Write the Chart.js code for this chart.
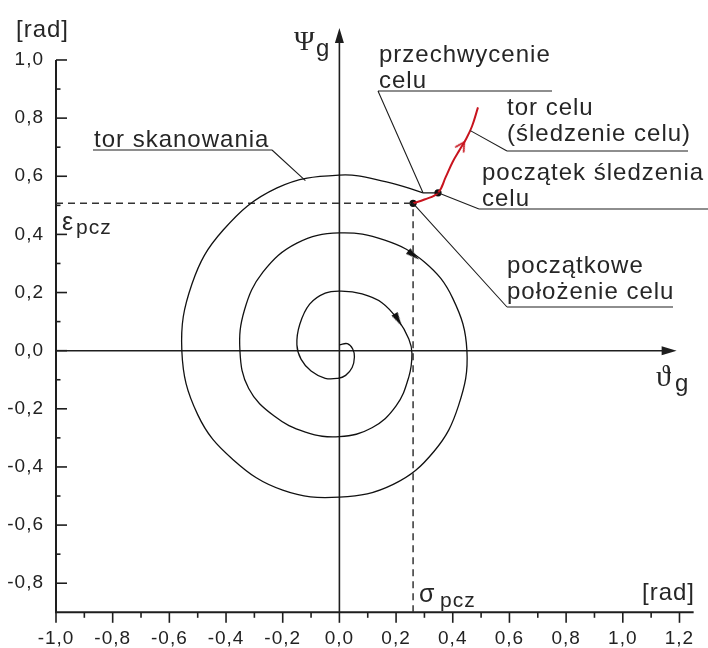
<!DOCTYPE html>
<html>
<head>
<meta charset="utf-8">
<script src="https://cdn.jsdelivr.net/npm/chart.js@4.4.1/dist/chart.umd.min.js"></script>
<style>
  html, body { margin: 0; padding: 0; background: #fff; }
  canvas { display: block; }
</style>
</head>
<body>
<canvas id="chart" width="708" height="648"></canvas>
<script>
// axis ranges (rad)
const xRange = [-1.0, 1.25];
const yRange = [-0.9, 1.12];
const frameTop = 1.0;
const axisTips = { x: 1.19, y: 1.11 };

// scanning spiral, clockwise from the centre
const scanPath = [
  [0.000, 0.020], [0.028, 0.024], [0.047, 0.006], [0.053, -0.022],
  [0.045, -0.058], [0.022, -0.085], [-0.005, -0.095], [-0.050, -0.095],
  [-0.100, -0.070], [-0.135, -0.030], [-0.150, 0.020], [-0.140, 0.090],
  [-0.105, 0.160], [-0.050, 0.198], [0.007, 0.205], [0.080, 0.195],
  [0.150, 0.165], [0.207, 0.106], [0.245, 0.040], [0.256, -0.010],
  [0.245, -0.090], [0.200, -0.190], [0.115, -0.265], [0.000, -0.296],
  [-0.120, -0.280], [-0.230, -0.225], [-0.320, -0.130], [-0.351, 0.000],
  [-0.335, 0.140], [-0.270, 0.270], [-0.150, 0.370], [0.000, 0.405],
  [0.160, 0.380], [0.300, 0.305], [0.400, 0.180], [0.450, 0.000],
  [0.420, -0.190], [0.335, -0.345], [0.190, -0.460], [0.000, -0.504],
  [-0.200, -0.480], [-0.375, -0.375], [-0.500, -0.220], [-0.556, 0.000],
  [-0.520, 0.230], [-0.410, 0.415], [-0.220, 0.560], [0.000, 0.604],
  [0.166, 0.581], [0.295, 0.543]
];
const captureLink = [[0.295, 0.543], [0.348, 0.543]];

// target track (red)
const targetPath = [
  [0.260, 0.507], [0.300, 0.520], [0.348, 0.543], [0.375, 0.597],
  [0.400, 0.650], [0.425, 0.692], [0.448, 0.730], [0.468, 0.772],
  [0.489, 0.837]
];

// initial target position
const sigmaPcz = 0.26;
const epsPcz = 0.507;
const keyPoints = [[sigmaPcz, epsPcz], [0.348, 0.543]];

// direction arrows (degrees, clockwise from up)
const scanArrows = [[0.207, 0.106], [0.262, 0.328]];
const scanArrowAngles = [150, 128];
const targetArrows = [[0.432, 0.704]];
const targetArrowAngles = [32];

const ink = '#1e1e1e';
const red = '#c8141e';
const sans = '"Liberation Sans", Arial, sans-serif';
const serif = '"Liberation Serif", "Times New Roman", serif';

function toXY(list) {
  return list.map(p => ({ x: p[0], y: p[1] }));
}

function arrowImage(len, width, color, open) {
  const c = document.createElement('canvas');
  c.width = Math.ceil(width) + 4;
  c.height = Math.ceil(len) * 2 + 4;
  const g = c.getContext('2d');
  const cx = c.width / 2;
  const top = c.height / 2 - len / 2;
  g.beginPath();
  g.moveTo(cx - width / 2, top + len);
  g.lineTo(cx, top);
  g.lineTo(cx + width / 2, top + len);
  if (open) {
    g.strokeStyle = color;
    g.lineWidth = 1.6;
    g.stroke();
  } else {
    g.closePath();
    g.fillStyle = color;
    g.fill();
  }
  return c;
}

function tickLabel(value) {
  const v = Math.round(value * 10);
  if (v % 2 !== 0) return '';
  return (v / 10).toFixed(1).replace('.', ',');
}

// leader notes: text in pixels, leader end on a data point
const notes = [
  { lines: ['tor skanowania'], x: 94, y: 147, rule: [93, 272, 150], from: [272, 150], to: [-0.12, 0.585] },
  { lines: ['przechwycenie', 'celu'], x: 379, y: 62, rule: [378, 552, 91], from: [378, 91], to: [0.295, 0.543] },
  { lines: ['tor celu', '(śledzenie celu)'], x: 507, y: 115, rule: [507, 688, 151], from: [507, 151], to: [0.462, 0.757] },
  { lines: ['początek śledzenia', 'celu'], x: 482, y: 180, rule: [479, 708, 209], from: [479, 209], to: [0.348, 0.543] },
  { lines: ['początkowe', 'położenie celu'], x: 507, y: 273, rule: [507, 673, 307], from: [507, 307], to: [sigmaPcz, epsPcz] }
];

const frameAxes = {
  id: 'frameAxes',
  beforeDraw(chart) {
    chart.ctx.letterSpacing = '1px';
  },
  beforeDatasetsDraw(chart) {
    const { ctx, scales: { x, y } } = chart;
    const left = x.getPixelForValue(xRange[0]);
    const bottom = y.getPixelForValue(yRange[0]);
    const top = y.getPixelForValue(frameTop);
    ctx.save();
    ctx.strokeStyle = ink;
    ctx.lineWidth = 2;
    ctx.beginPath();
    ctx.moveTo(left, top);
    ctx.lineTo(left, bottom);
    ctx.lineTo(chart.chartArea.right, bottom);
    ctx.stroke();

    ctx.lineWidth = 1.6;
    y.ticks.forEach(t => {
      const v = Math.round(t.value * 10);
      if (v <= -9 || v > 10) return;
      const p = y.getPixelForValue(t.value);
      ctx.beginPath();
      ctx.moveTo(left, p);
      ctx.lineTo(left + (v % 2 === 0 ? 11 : 4.5), p);
      ctx.stroke();
    });
    x.ticks.forEach(t => {
      const v = Math.round(t.value * 10);
      if (v > 12) return;
      const p = x.getPixelForValue(t.value);
      ctx.beginPath();
      ctx.moveTo(p, bottom);
      ctx.lineTo(p, bottom + (v % 2 === 0 ? 10.5 : 5.5));
      ctx.stroke();
    });

    // axes through the origin with arrow heads
    const x0 = x.getPixelForValue(0);
    const y0 = y.getPixelForValue(0);
    const tipY = y.getPixelForValue(axisTips.y);
    const tipX = x.getPixelForValue(axisTips.x);
    ctx.lineWidth = 1.6;
    ctx.beginPath();
    ctx.moveTo(x0, bottom);
    ctx.lineTo(x0, tipY + 6);
    ctx.moveTo(left, y0);
    ctx.lineTo(tipX - 6, y0);
    ctx.stroke();
    ctx.fillStyle = ink;
    ctx.beginPath();
    ctx.moveTo(x0, tipY);
    ctx.lineTo(x0 - 4.5, tipY + 15);
    ctx.lineTo(x0 + 4.5, tipY + 15);
    ctx.closePath();
    ctx.moveTo(tipX, y0);
    ctx.lineTo(tipX - 15, y0 - 4.5);
    ctx.lineTo(tipX - 15, y0 + 4.5);
    ctx.closePath();
    ctx.fill();
    ctx.restore();
  },
  afterDatasetsDraw(chart) {
    const { ctx, scales: { x, y } } = chart;
    ctx.save();
    ctx.letterSpacing = '1px';
    ctx.fillStyle = '#262626';
    ctx.strokeStyle = ink;
    ctx.lineWidth = 1.1;
    ctx.textBaseline = 'alphabetic';

    ctx.font = '24px ' + sans;
    notes.forEach(n => {
      n.lines.forEach((line, i) => ctx.fillText(line, n.x, n.y + i * 26));
      ctx.beginPath();
      ctx.moveTo(n.rule[0], n.rule[2]);
      ctx.lineTo(n.rule[1], n.rule[2]);
      ctx.moveTo(n.from[0], n.from[1]);
      ctx.lineTo(x.getPixelForValue(n.to[0]), y.getPixelForValue(n.to[1]));
      ctx.stroke();
    });

    // units
    ctx.font = '24px ' + sans;
    ctx.fillText('[rad]', 16, 37);
    ctx.textAlign = 'right';
    ctx.fillText('[rad]', 695, 600);
    ctx.textAlign = 'left';

    // axis names
    ctx.letterSpacing = '0px';
    ctx.font = '28px ' + serif;
    ctx.fillText('Ψ', 294, 50);
    ctx.font = '30px ' + serif;
    ctx.fillText('ϑ', 656, 386);
    ctx.font = '24px ' + sans;
    ctx.fillText('g', 316, 56);
    ctx.fillText('g', 675, 391);

    // initial position symbols
    ctx.font = '25px ' + sans;
    ctx.fillText('ε', 62, 230);
    ctx.fillText('σ', 419, 602);
    ctx.letterSpacing = '1px';
    ctx.font = '21px ' + sans;
    ctx.fillText('pcz', 76, 234);
    ctx.fillText('pcz', 440, 607);
    ctx.restore();
  }
};

new Chart(document.getElementById('chart'), {
  type: 'scatter',
  data: {
    datasets: [
      {
        label: 'tor skanowania',
        data: toXY(scanPath),
        showLine: true,
        borderColor: '#111',
        borderWidth: 1.3,
        tension: 0.4,
        pointRadius: 0
      },
      {
        label: 'przechwycenie',
        data: toXY(captureLink),
        showLine: true,
        borderColor: '#111',
        borderWidth: 1.3,
        pointRadius: 0
      },
      {
        label: 'sigma',
        data: toXY([[sigmaPcz, yRange[0]], [sigmaPcz, epsPcz]]),
        showLine: true,
        borderColor: '#333',
        borderWidth: 1.5,
        borderDash: [7, 5],
        pointRadius: 0
      },
      {
        label: 'epsilon',
        data: toXY([[xRange[0], epsPcz], [sigmaPcz, epsPcz]]),
        showLine: true,
        borderColor: '#333',
        borderWidth: 1.5,
        borderDash: [7, 5],
        pointRadius: 0
      },
      {
        label: 'tor celu',
        data: toXY(targetPath),
        showLine: true,
        borderColor: red,
        borderWidth: 2,
        tension: 0.4,
        pointRadius: 0
      },
      {
        label: 'punkty',
        data: toXY(keyPoints),
        pointRadius: 3.6,
        pointBackgroundColor: '#111',
        pointBorderWidth: 0
      },
      {
        label: 'kierunek skanowania',
        data: toXY(scanArrows),
        pointStyle: arrowImage(14, 7, '#111', false),
        pointRotation: scanArrowAngles,
        pointRadius: 7
      },
      {
        label: 'kierunek celu',
        data: toXY(targetArrows),
        pointStyle: arrowImage(9, 10, red, true),
        pointRotation: targetArrowAngles,
        pointRadius: 7
      }
    ]
  },
  options: {
    responsive: false,
    animation: false,
    events: [],
    layout: { padding: { left: 0, top: 25.1, right: 14.1, bottom: 0 } },
    plugins: { legend: { display: false }, tooltip: { enabled: false } },
    scales: {
      x: {
        type: 'linear',
        min: xRange[0],
        max: xRange[1],
        grid: { display: false, drawTicks: false },
        border: { display: false },
        afterFit: s => { s.height = 35.7; },
        ticks: {
          stepSize: 0.1,
          includeBounds: false,
          autoSkip: false,
          maxRotation: 0,
          padding: 15,
          color: '#222',
          font: { family: sans, size: 19 },
          callback: tickLabel
        }
      },
      y: {
        type: 'linear',
        min: yRange[0],
        max: yRange[1],
        grid: { display: false, drawTicks: false },
        border: { display: false },
        afterFit: s => { s.width = 56; },
        ticks: {
          stepSize: 0.1,
          includeBounds: false,
          autoSkip: false,
          padding: 12,
          color: '#222',
          font: { family: sans, size: 19 },
          callback: tickLabel
        }
      }
    }
  },
  plugins: [frameAxes]
});
</script>
</body>
</html>
